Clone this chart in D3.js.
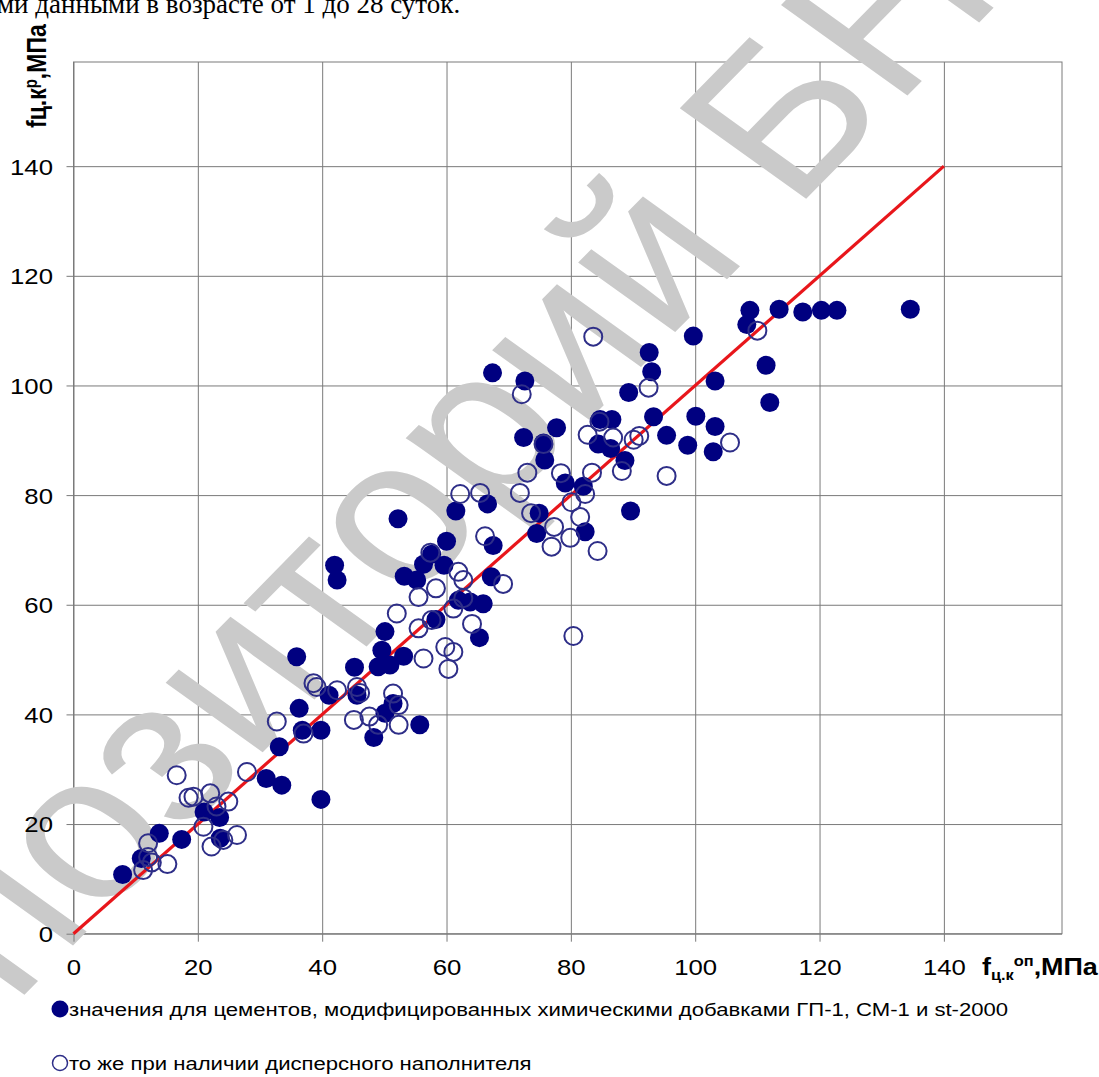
<!DOCTYPE html>
<html>
<head>
<meta charset="utf-8">
<script src="https://cdn.jsdelivr.net/npm/d3@7"></script>
<style>
  body { margin: 0; background: #fff; }
  svg { display: block; }
</style>
</head>
<body>
<div id="chart"></div>
<script>
// Tick values on both axes
const xTicks = [0, 20, 40, 60, 80, 100, 120, 140]
const yTicks = [0, 20, 40, 60, 80, 100, 120, 140]

// Cements with chemical admixtures (filled markers): [f_op, f_calc]
const filledPts = [
  [7.9, 10.8], [10.9, 13.7], [13.8, 18.3], [17.4, 17.2], [21.0, 22.2], [23.5, 21.2], [23.6, 17.4],
  [31.0, 28.3], [33.5, 27.1], [33.1, 34.1], [36.3, 41.1], [36.8, 37.1], [39.8, 37.1], [39.8, 24.5],
  [42.0, 67.2], [42.4, 64.5], [35.9, 50.5], [45.2, 48.6], [41.1, 43.5], [45.6, 43.5], [50.1, 55.1],
  [49.6, 51.7], [50.9, 49.0], [49.0, 48.7], [53.1, 50.6], [51.4, 42.0], [50.1, 40.2], [48.3, 35.8],
  [55.7, 38.1], [53.2, 65.2], [55.2, 64.5], [56.3, 67.4], [57.6, 69.2], [59.6, 67.2], [67.2, 65.1],
  [61.9, 60.8], [63.8, 60.5], [65.9, 60.2], [58.3, 57.3], [65.3, 54.0],
  [67.4, 102.3], [72.6, 100.8], [92.6, 106.0], [93.0, 102.5], [89.3, 98.7], [103.2, 100.8],
  [77.7, 92.3], [72.4, 90.5], [75.6, 89.5], [75.8, 86.4], [84.7, 93.8], [86.6, 93.8], [93.3, 94.3],
  [84.4, 89.3], [86.4, 88.5], [88.7, 86.3], [95.4, 90.9], [98.8, 89.1], [100.1, 94.4], [103.2, 92.5],
  [102.9, 87.9], [79.1, 82.2], [82.0, 81.6], [89.6, 77.1], [74.9, 76.7], [74.5, 73.0], [82.3, 73.3],
  [61.5, 77.1], [66.6, 78.4], [60.0, 71.6], [67.5, 70.8], [52.2, 75.7], [99.7, 109.0],
  [108.8, 113.7], [113.5, 113.9], [117.3, 113.4], [120.3, 113.7], [122.8, 113.7], [134.6, 113.9],
  [108.3, 111.1], [111.4, 103.7], [112.0, 96.9]
]

// Same with dispersed filler (hollow markers)
const hollowPts = [
  [16.6, 28.9], [18.5, 24.8], [19.3, 25.0], [22.0, 25.6], [24.9, 24.1], [27.9, 29.5], [23.0, 23.2],
  [20.9, 19.5], [22.2, 15.9], [26.3, 18.0], [12.0, 16.5], [11.2, 11.6], [12.6, 13.0], [15.1, 12.7],
  [12.0, 14.0], [24.1, 17.1], [32.7, 38.7], [37.0, 36.5], [45.1, 39.0],
  [38.6, 45.7], [39.1, 45.0], [42.4, 44.4], [45.6, 45.0], [46.1, 43.9], [47.6, 39.6], [49.0, 38.1],
  [52.3, 38.1], [51.4, 43.8], [52.3, 41.7], [52.0, 58.4], [55.5, 55.7], [57.6, 57.2], [56.3, 50.2],
  [55.5, 61.4], [58.3, 63.0], [61.9, 66.0], [62.7, 64.5], [69.1, 63.8], [61.1, 59.3], [64.1, 56.5],
  [59.8, 52.3], [61.1, 51.4], [60.3, 48.3], [57.4, 69.5], [62.7, 61.2],
  [83.6, 108.9], [72.1, 98.4], [92.5, 99.6], [84.6, 93.4], [82.7, 91.0], [86.8, 90.5], [90.1, 90.1],
  [91.0, 90.8], [105.6, 89.6], [75.6, 89.3], [73.0, 84.1], [78.4, 84.0], [83.4, 84.1], [88.2, 84.4],
  [95.4, 83.5], [71.8, 80.4], [62.2, 80.2], [65.4, 80.4], [80.1, 78.7], [82.3, 80.2], [73.6, 76.7],
  [81.5, 76.0], [77.3, 74.2], [79.9, 72.2], [76.9, 70.6], [84.3, 69.8], [66.2, 72.5], [80.4, 54.3],
  [110.0, 110.0]
]

// Equality line
const lineX = [0, 140]
const lineY = [0, 140]

const legendLabels = [
  'значения для цементов, модифицированных химическими добавками ГП-1, СМ-1 и st-2000',
  'то же при наличии дисперсного наполнителя'
]
const headText = 'ми данными в возрасте от 1 до 28 суток.'
const stampText = 'Репозиторий БНТУ'

const W = 1099
const H = 1077
const sx = 1.17   // picture is stretched horizontally, text too
const font = 'Liberation Sans, Arial, sans-serif'
const gridColor = '#7a7a7a'

const svg = d3.select('#chart').append('svg')
  .attr('width', W)
  .attr('height', H)

const x = d3.scaleLinear().domain([0, 159]).range([73.5, 1062])
const y = d3.scaleLinear().domain([0, 159]).range([933.7, 62])

// Cut-off document line at the top
svg.append('text')
  .attr('x', -3)
  .attr('y', 12.5)
  .attr('font-family', 'Liberation Serif, Times New Roman, serif')
  .attr('font-size', 27)
  .attr('fill', '#000')
  .text(headText)

// Grid
const grid = svg.append('g').attr('class', 'grid')
grid.append('g')
  .attr('transform', `translate(0,${y(0)})`)
  .call(d3.axisBottom(x).tickValues(xTicks).tickSize(-(y(0) - y(159))).tickFormat(''))
grid.append('g')
  .attr('transform', `translate(${x(0)},0)`)
  .call(d3.axisLeft(y).tickValues(yTicks).tickSize(-(x(159) - x(0))).tickFormat(''))
grid.selectAll('.domain').remove()
grid.selectAll('line').attr('stroke', gridColor).attr('stroke-width', 1)

// Frame
svg.append('rect')
  .attr('x', x(0))
  .attr('y', y(159))
  .attr('width', x(159) - x(0))
  .attr('height', y(0) - y(159))
  .attr('fill', 'none')
  .attr('stroke', gridColor)
  .attr('stroke-width', 1)

// Watermark (stretched like the rest of the picture)
svg.append('text')
  .attr('transform', `translate(-168,1191) scale(${sx},1) rotate(-50)`)
  .attr('font-family', font)
  .attr('font-size', 205)
  .attr('fill', '#cacaca')
  .text(stampText)

// Axes with outside ticks
const xAxis = svg.append('g')
  .attr('transform', `translate(0,${y(0)})`)
  .call(d3.axisBottom(x).tickValues(xTicks).tickSize(8))
const yAxis = svg.append('g')
  .attr('transform', `translate(${x(0)},0)`)
  .call(d3.axisLeft(y).tickValues(yTicks).tickSize(7))

;[xAxis, yAxis].forEach(a => {
  a.select('.domain').remove()
  a.selectAll('line').attr('stroke', gridColor)
  a.selectAll('text')
    .attr('font-family', font)
    .attr('font-size', 22)
    .attr('fill', '#000')
})
xAxis.selectAll('text')
  .attr('y', 41)
  .attr('dy', 0)
  .attr('transform', `scale(${sx},1)`)
yAxis.selectAll('text')
  .attr('x', -20.5 / sx)
  .attr('dy', '0.36em')
  .attr('transform', `scale(${sx},1)`)

// Equality line
svg.append('line')
  .attr('x1', x(lineX[0]))
  .attr('y1', y(lineY[0]))
  .attr('x2', x(lineX[1]))
  .attr('y2', y(lineY[1]))
  .attr('stroke', '#e8161b')
  .attr('stroke-width', 3.2)

// Points
svg.append('g').selectAll('circle')
  .data(filledPts)
  .join('circle')
  .attr('cx', d => x(d[0]))
  .attr('cy', d => y(d[1]))
  .attr('r', 9.5)
  .attr('fill', '#000080')

svg.append('g').selectAll('circle')
  .data(hollowPts)
  .join('circle')
  .attr('cx', d => x(d[0]))
  .attr('cy', d => y(d[1]))
  .attr('r', 9)
  .attr('fill', 'none')
  .attr('stroke', '#2e2e88')
  .attr('stroke-width', 2)

// Y axis title (rotated)
const yTitle = svg.append('text')
  .attr('transform', `translate(46,128) scale(${sx},1) rotate(-90)`)
  .attr('font-family', font)
  .attr('font-weight', 'bold')
  .attr('font-size', 23)
  .attr('fill', '#000')
yTitle.append('tspan').text('fц.к')
yTitle.append('tspan').attr('font-size', 15).attr('dy', -8).text('р')
yTitle.append('tspan').attr('dy', 8).text(',МПа')

// X axis title
const xTitle = svg.append('text')
  .attr('transform', `translate(982,975) scale(${sx},1)`)
  .attr('font-family', font)
  .attr('font-weight', 'bold')
  .attr('font-size', 23)
  .attr('fill', '#000')
xTitle.append('tspan').text('f')
xTitle.append('tspan').attr('font-size', 14).attr('dy', 5).text('ц.к')
xTitle.append('tspan').attr('font-size', 14).attr('dy', -14).text('оп')
xTitle.append('tspan').attr('dy', 9).text(',МПа')

// Legend
const legend = svg.append('g')
const rows = legend.selectAll('g')
  .data(legendLabels)
  .join('g')
  .attr('transform', (d, i) => `translate(0,${1009 + i * 54})`)
rows.append('circle')
  .attr('cx', 60)
  .attr('cy', 0)
  .attr('r', (d, i) => i === 0 ? 8.5 : 7.5)
  .attr('fill', (d, i) => i === 0 ? '#000080' : 'none')
  .attr('stroke', (d, i) => i === 0 ? 'none' : '#2e2e88')
  .attr('stroke-width', 1.5)
rows.append('text')
  .attr('transform', `translate(69,7) scale(${sx},1)`)
  .attr('font-family', font)
  .attr('font-size', 18.9)
  .attr('fill', '#000')
  .text(d => d)
</script>
</body>
</html>
